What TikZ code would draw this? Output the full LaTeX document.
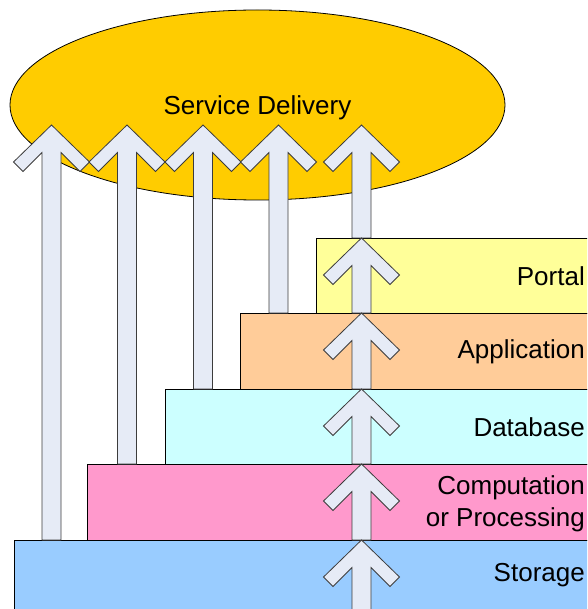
\documentclass[tikz,border=0pt]{standalone}
\usepackage{fontspec}
\setmainfont{Liberation Sans}
\usetikzlibrary{shapes.geometric,calc}

\definecolor{sdgold}{HTML}{FFCC00}
\definecolor{portalc}{HTML}{FFFF99}
\definecolor{appc}{HTML}{FFCC99}
\definecolor{dbc}{HTML}{CCFFFF}
\definecolor{compc}{HTML}{FF99CC}
\definecolor{storc}{HTML}{99CCFF}
\definecolor{arrfill}{HTML}{E6EBF6}
\definecolor{arrline}{HTML}{3C3C3C}

% Block arrow with a chevron head: #1 = tip, #2 = any point on the base line
\newcommand\blockarrow[2]{%
  \draw[arrowbody] (#1) -- ++(38,37) -- ++(-9.5,9.5) -- ++(-19,-19)
    -- ($(#1 |- #2)+(9.5,0)$) -- ++(-19,0)
    -- ($(#1)+(-9.5,27.5)$) -- ++(-19,19) -- ++(-9.5,-9.5) -- cycle;}

\begin{document}
\begin{tikzpicture}[x=1pt,y=-1pt,
  layer/.style={draw=black, line width=0.8pt, anchor=north west,
    minimum width=700, inner sep=0pt},
  arrowbody/.style={draw=arrline, fill=arrfill, line width=0.8pt, line join=miter},
  lbl/.style={inner sep=0pt, anchor=east, align=right,
    font=\fontsize{26}{32}\selectfont}]

\useasboundingbox (0,0) rectangle (587,609);
\clip (0,0) rectangle (587,609);

% service delivery cloud
\node[ellipse, draw=black, line width=0.8pt, fill=sdgold, inner sep=0pt,
  minimum width=495, minimum height=190, text height=18.6pt, text depth=0pt,
  font=\fontsize{26}{32}\selectfont] (sd) at (257.5,105) {Service Delivery};

% stacked layers
\node[layer, fill=portalc, minimum height=75] (portal) at (316,238) {};
\node[layer, fill=appc, minimum height=76] (app) at (240,313) {};
\node[layer, fill=dbc, minimum height=75] (db) at (165,389) {};
\node[layer, fill=compc, minimum height=76] (comp) at (87,464) {};
\node[layer, fill=storc, minimum height=90] (stor) at (13.5,540) {};

% arrow tips reaching the service delivery cloud
\coordinate (t1) at (51.5,125);
\coordinate (t2) at (127,125);
\coordinate (t3) at (203,125);
\coordinate (t4) at (278.5,125);
\coordinate (t5) at (361.5,125);
\coordinate (floor) at (361.5,630);

\blockarrow{t1}{stor.north}
\blockarrow{t2}{comp.north}
\blockarrow{t3}{db.north}
\blockarrow{t4}{app.north}
\blockarrow{t5}{portal.north}

% arrows climbing from layer to layer
\blockarrow{t5 |- portal.north}{app.north}
\blockarrow{t5 |- app.north}{db.north}
\blockarrow{t5 |- db.north}{comp.north}
\blockarrow{t5 |- comp.north}{stor.north}
\blockarrow{t5 |- stor.north}{floor}

% layer labels, right aligned
\coordinate (rx) at (585,0);
\node[lbl] (portal-l) at (portal.center -| rx) {Portal};
\node[lbl] (app-l) at (app.center -| rx) {Application};
\node[lbl] (db-l) at (db.center -| rx) {Database};
\node[lbl] (comp-l) at ($(comp.center -| rx)+(0,1)$) {Computation\\or Processing};
\node[lbl] (stor-l) at (585,575) {Storage};
\end{tikzpicture}
\end{document}
